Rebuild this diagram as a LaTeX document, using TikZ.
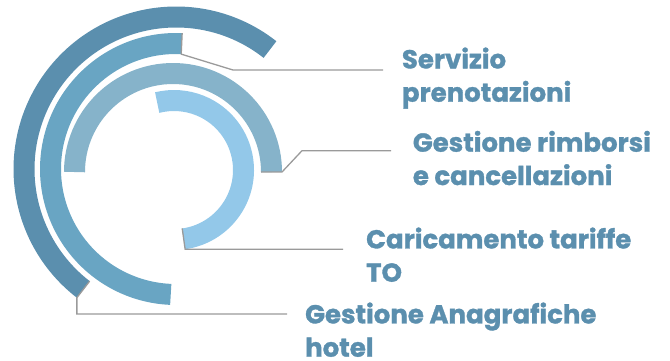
\documentclass[tikz,border=0pt]{standalone}
\usepackage{fontspec}
\newfontfamily\lblfont{Poppins}[UprightFont={* Bold}, FakeBold=1.2]
\usepackage{tikz}
\usetikzlibrary{calc}
\definecolor{ringA}{HTML}{5B8FAE}
\definecolor{ringB}{HTML}{69A5C3}
\definecolor{ringC}{HTML}{86B3CA}
\definecolor{ringD}{HTML}{93C8E9}
\definecolor{labelblue}{HTML}{5B8FAE}
\definecolor{leadgray}{HTML}{9A9A9A}
\tikzstyle{every node}=[font=\lblfont\fontsize{26}{33.3}\selectfont]
\tikzstyle{ring}=[line width=21pt]
\tikzstyle{leader}=[draw=leadgray, line width=1.3pt]
\tikzstyle{lbl}=[anchor=base west, align=left, inner sep=0pt, text=labelblue]

\begin{document}
\begin{tikzpicture}[x=1pt,y=1pt]
            \useasboundingbox (0,0) rectangle (670,-360);
            \coordinate (c1) at (176,-169);
            \coordinate (c2) at (173,-172);
            \coordinate (c3) at (174,-170);
            % rings
            \draw[ring, ringA] ($(c1)+(51.8:152)$) arc (51.8:232.4:152);
            \draw[ring, ringB] ($(c1)+(87.4:125.5)$) arc (87.4:267.6:125.5);
            \draw[ring, ringC] ($(c2)+(0:98.5)$) arc (0:180:98.5);
            \draw[ring, ringD] ($(c3)+(-82:69.5)$) arc (-82:104:69.5);
            % labels (anchored on the baseline of the last line)
            \node[lbl] (serv) at (401.7,-101.7) {Servizio\\prenotazioni};
            \node[lbl] (rimb) at (412.7,-185) {Gestione rimborsi\\e cancellazioni};
            \node[lbl] (tarif) at (366,-281.7) {Caricamento tariffe\\TO};
            \node[lbl] (anag) at (305,-356.7) {Gestione Anagrafiche\\hotel};
            % leaders
            \coordinate (sA) at ($(c1)+(87.4:136)$);
            \coordinate (sB) at ($(c1)+(87.4:115)$);
            \coordinate (sK) at (233,-70);
            \coordinate (sE) at (383,-70);
            \draw[leader] (sA) -- (sB) -- (sK) -- (sE);
            \coordinate (rA) at ($(c2)+(0:88)$);
            \coordinate (rB) at ($(c2)+(0:109)$);
            \coordinate (rK) at (302,-150.7);
            \coordinate (rE) at (391,-150.7);
            \draw[leader] (rA) -- (rB) -- (rK) -- (rE);
            \coordinate (tA) at ($(c3)+(-82:59)$);
            \coordinate (tB) at ($(c3)+(-82:80)$);
            \coordinate (tE) at (343,-251.7);
            \draw[leader] (tA) -- (tB) -- (tB -| tE);
            \coordinate (aA) at ($(c1)+(232.4:141.5)$);
            \coordinate (aB) at ($(c1)+(232.4:162.5)$);
            \coordinate (aE) at (287,-314);
            \draw[leader] (aA) -- (aB) -- (aB |- aE) -- (aE);
        \end{tikzpicture}
\end{document}
